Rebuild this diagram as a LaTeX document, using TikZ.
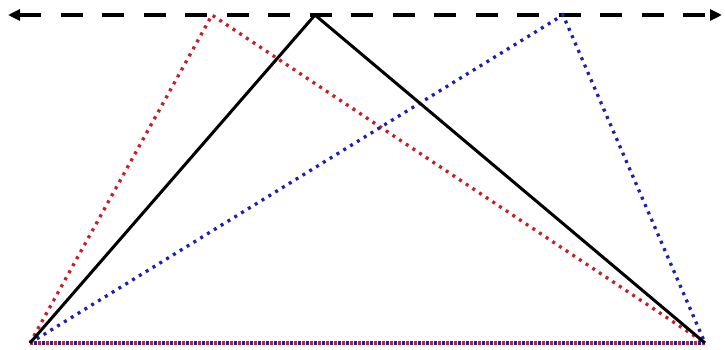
\documentclass[tikz,border=0pt]{standalone}
\usetikzlibrary{arrows.meta}
\definecolor{dred}{RGB}{200,30,40}
\definecolor{dblue}{RGB}{30,30,180}
\begin{document}
\begin{tikzpicture}[x=1pt,y=-1pt,
  solidline/.style={line width=3pt,black},
  reddot/.style={line width=3.3pt,dred,dash pattern=on 3pt off 5pt},
  bluedot/.style={line width=3.3pt,dblue,dash pattern=on 3pt off 5pt},
  axisline/.style={line width=3.5pt,black,dash pattern=on 22pt off 19.5pt,{Triangle[length=12pt,width=11pt]}-{Triangle[length=12pt,width=11pt]}}]
\useasboundingbox (0,0) rectangle (725,350);
\coordinate (L) at (30,343);
\coordinate (R) at (705,343);
\coordinate (A) at (315,15);
\coordinate (Ar) at (212,15);
\coordinate (Ab) at (563,15);
\coordinate (E1) at (8,15);
\coordinate (E2) at (722,15);
\draw[axisline] (E1) -- (E2);
\draw[reddot] (L) -- (Ar) -- (R);
\draw[bluedot] (L) -- (Ab) -- (R);
\draw[reddot] (L) -- (R);
\draw[bluedot,dash phase=4pt] (L) -- (R);
\draw[solidline] (L) -- (A) -- (R);
\end{tikzpicture}
\end{document}
